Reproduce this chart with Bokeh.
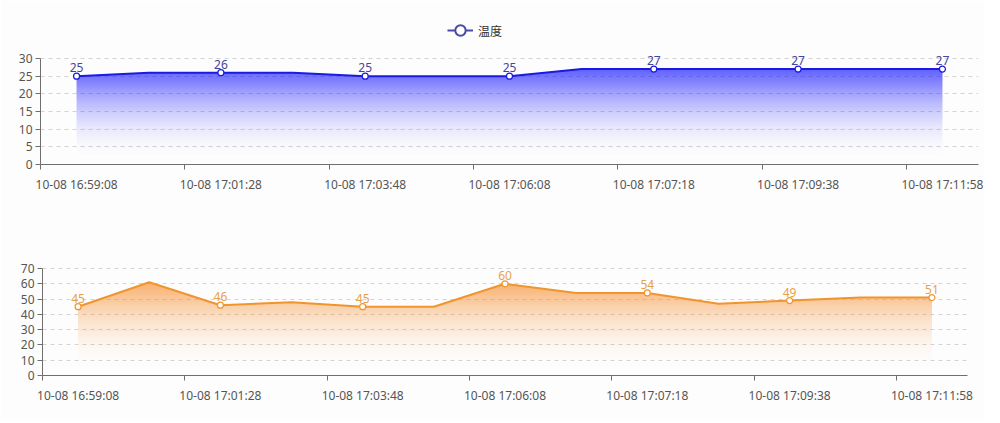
import math
import numpy as np
from bokeh.plotting import figure
from bokeh.models import Range1d, FixedTicker, Legend, LegendItem
from bokeh.embed import file_html
from bokeh.resources import INLINE
from bokeh.core.properties import value

# ---------------- data ----------------
times = ["10-08 16:59:08", "10-08 17:00:18", "10-08 17:01:28", "10-08 17:02:38",
         "10-08 17:03:48", "10-08 17:04:58", "10-08 17:06:08", "10-08 17:06:43",
         "10-08 17:07:18", "10-08 17:08:28", "10-08 17:09:38", "10-08 17:10:48",
         "10-08 17:11:58"]
temperature = [25, 26, 26, 26, 25, 25, 25, 27, 27, 27, 27, 27, 27]
humidity = [45, 61, 46, 48, 45, 45, 60, 54, 54, 47, 49, 51, 51]
temp_ticks = [0, 5, 10, 15, 20, 25, 30]
hum_ticks = [0, 10, 20, 30, 40, 50, 60, 70]
legend_label = "温度"

FONT = "Noto Sans"
AXIS_COLOR = "#6e6e6e"
LABEL_COLOR = "#555555"
BG = "#fdfdfd"


def band_polygon(xs, ys, lo, hi):
    px = []
    for i in range(len(xs) - 1):
        x0, y0, x1, y1 = xs[i], ys[i], xs[i + 1], ys[i + 1]
        px.append(x0)
        for level in (lo, hi):
            if (y0 - level) * (y1 - level) < 0:
                px.append(x0 + (level - y0) / (y1 - y0) * (x1 - x0))
    px.append(xs[-1])
    px = sorted(px)
    py = np.clip(np.interp(px, xs, ys), lo, hi)
    return px, list(py)


def make_panel(vals, yticks, line_color, fill_rgb, label_color,
               width, height, f_left, f_right, f_top, f_axis_top, f_bottom):
    """f_* are pixel positions of the frame inside the figure;
    f_axis_top is where the top tick value sits."""
    n = len(vals)
    idx = list(range(n))
    ytop = yticks[-1]
    px_per_unit = (f_bottom - f_axis_top) / ytop
    y_end = (f_bottom - f_top) / px_per_unit
    p = figure(width=width, height=height, x_range=Range1d(-0.5, n - 0.5),
               y_range=Range1d(0, y_end), output_backend="svg",
               toolbar_location=None, min_border_top=f_top,
               min_border_bottom=height - f_bottom, min_border_left=f_left,
               min_border_right=width - f_right)
    p.outline_line_color = None
    p.background_fill_color = BG
    p.border_fill_color = BG

    # gradient area built from 1px horizontal bands
    vmax = max(vals)
    band_h = 1.0 / px_per_unit
    nb = int(math.ceil(vmax / band_h))
    for k in range(nb):
        lo = k * band_h
        hi = min((k + 1) * band_h, vmax)
        t = ((lo + hi) / 2) / vmax
        alpha = 0.85 * t ** 2.3
        px, py = band_polygon(idx, vals, lo, hi)
        p.varea(x=px, y1=[lo] * len(px), y2=py, fill_color=fill_rgb,
                fill_alpha=alpha)

    p.line(idx, vals, line_color=line_color, line_width=2)
    ev = idx[::2]
    ev_vals = [vals[i] for i in ev]
    p.scatter(ev, ev_vals, size=6, marker="circle", fill_color="white",
              line_color=line_color, line_width=1.2)
    p.text(ev, ev_vals, text=[str(v) for v in ev_vals], y_offset=-4,
           text_align="center", text_baseline="bottom", text_color=label_color,
           text_font=value(FONT), text_font_size="12px")

    # x axis
    xa = p.xaxis[0]
    xa.ticker = FixedTicker(ticks=ev, minor_ticks=[i - 0.5 for i in ev])
    xa.major_label_overrides = {i: times[i] for i in ev}
    xa.major_tick_out = 0
    xa.major_tick_in = 0
    xa.minor_tick_out = 5
    xa.minor_tick_in = 0
    xa.minor_tick_line_color = AXIS_COLOR
    xa.axis_line_color = AXIS_COLOR
    xa.major_label_standoff = 6
    xa.major_label_text_font = FONT
    xa.major_label_text_font_size = "12px"
    xa.major_label_text_color = LABEL_COLOR

    # y axis
    ya = p.yaxis[0]
    ya.ticker = FixedTicker(ticks=yticks, minor_ticks=[])
    ya.bounds = (0, ytop)
    ya.major_tick_out = 5
    ya.major_tick_in = 0
    ya.major_tick_line_color = AXIS_COLOR
    ya.axis_line_color = AXIS_COLOR
    ya.major_label_standoff = 3
    ya.major_label_text_font = FONT
    ya.major_label_text_font_size = "12px"
    ya.major_label_text_color = LABEL_COLOR

    p.xgrid.visible = False
    p.ygrid.grid_line_dash = "4 4"
    p.ygrid.grid_line_color = "#d4d4d4"
    return p


top = make_panel(temperature, temp_ticks, "#1a1ae0", (20, 20, 255), "#44449a",
                 width=984, height=205, f_left=40, f_right=978,
                 f_top=14, f_axis_top=58, f_bottom=164)
bottom = make_panel(humidity, hum_ticks, "#f0952d", (247, 140, 40), "#e5a24e",
                    width=984, height=215, f_left=42, f_right=967,
                    f_top=53, f_axis_top=63, f_bottom=170)

# legend (top panel): hidden renderers that only provide the legend icon
r1 = top.line(x=[0, 1], y=temperature[:2], line_color="#4a4aa6", line_width=2,
              visible=False)
r2 = top.scatter(x=[0], y=temperature[:1], size=10, marker="circle",
                 fill_color="white", line_color="#4a4aa6", line_width=2,
                 visible=False)
legend = Legend(items=[LegendItem(label=legend_label, renderers=[r1, r2])],
                location=(407, 121), orientation="horizontal",
                border_line_color=None, background_fill_alpha=0, padding=0,
                margin=0, glyph_width=26, glyph_height=26, label_standoff=5,
                label_height=26,
                label_text_font="Noto Sans CJK SC", label_text_font_size="12px",
                label_text_color="#333333")
top.add_layout(legend)

open("out.html", "w").write(file_html([top, bottom], INLINE))
